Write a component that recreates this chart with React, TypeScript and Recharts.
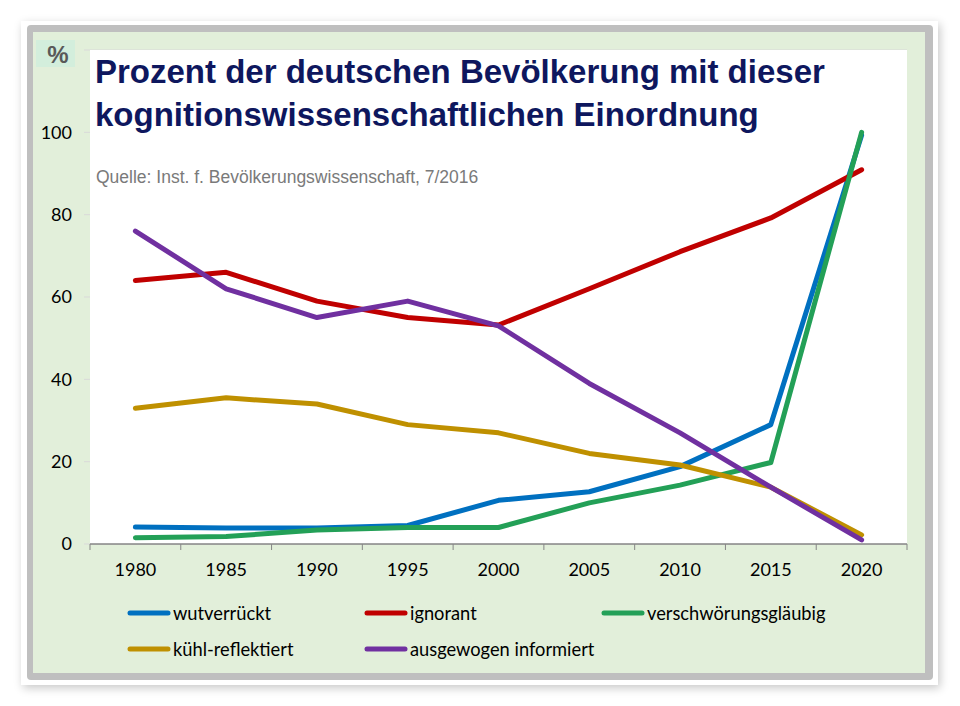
import React from 'react';
import { LineChart, Line, XAxis, YAxis, CartesianGrid, Legend } from 'recharts';

// Jahre (Kategorien)
const years = ['1980', '1985', '1990', '1995', '2000', '2005', '2010', '2015', '2020'];

// Werte je Gruppe in %
const wutverrueckt = [4.1, 3.9, 3.9, 4.5, 10.6, 12.7, 18.8, 29, 99.3];
const ignorant = [64, 66, 59, 55, 53.2, 62, 71, 79.2, 90.9];
const verschwoerungsglaeubig = [1.5, 1.8, 3.4, 4, 4, 10, 14.3, 19.8, 100];
const kuehlReflektiert = [33, 35.5, 34, 29, 27, 22, 19.2, 13.8, 2.2];
const ausgewogenInformiert = [76, 62, 55, 59, 53, 39, 27, 13.8, 1];

const yTicks = [0, 20, 40, 60, 80, 100, 120];

const series = [
  { key: 'wut', name: 'wutverrückt', color: '#0070c0', values: wutverrueckt },
  { key: 'ign', name: 'ignorant', color: '#c00000', values: ignorant },
  { key: 'ver', name: 'verschwörungsgläubig', color: '#23a057', values: verschwoerungsglaeubig },
  { key: 'kue', name: 'kühl-reflektiert', color: '#bf9000', values: kuehlReflektiert },
  { key: 'aus', name: 'ausgewogen informiert', color: '#7030a0', values: ausgewogenInformiert },
];

const data = years.map((year, i) => {
  const row: Record<string, string | number> = { year };
  series.forEach((s) => {
    row[s.key] = s.values[i];
  });
  return row;
});

const CHART_W = 892;
const CHART_H = 641;
const PLOT_W = 817;
const BAND = PLOT_W / years.length;
const TICK_FONT = 'Lato, "Open Sans", sans-serif';

const YTick = (props: any) => {
  const { x, y, payload } = props;
  if (payload.value === 120) {
    // "120" wird im Original durch ein %-Kästchen verdeckt
    return (
      <g>
        <rect x={x - 36} y={y - 10} width={39} height={27} fill="#d3eedc" />
        <text
          x={x - 14}
          y={y + 13}
          textAnchor="middle"
          fontFamily='"Liberation Sans", Arial, sans-serif'
          fontWeight="bold"
          fontSize={24}
          fill="#595959"
        >
          %
        </text>
      </g>
    );
  }
  return (
    <text x={x} y={y} dy="0.355em" textAnchor="end" fontFamily={TICK_FONT} fontSize={18} fill="#000">
      {payload.value}
    </text>
  );
};

const XTick = (props: any) => {
  const { x, y, payload, index } = props;
  const axisY = y - 19;
  const half = BAND / 2;
  return (
    <g>
      <line x1={x - half} x2={x - half} y1={axisY} y2={axisY + 6} stroke="#868686" strokeWidth={1} />
      {index === years.length - 1 && (
        <line x1={x + half} x2={x + half} y1={axisY} y2={axisY + 6} stroke="#868686" strokeWidth={1} />
      )}
      <text x={x} y={y} dy="0.71em" textAnchor="middle" fontFamily={TICK_FONT} fontSize={18} fill="#000">
        {payload.value}
      </text>
    </g>
  );
};

const LegendBox = () => (
  <div style={{ display: 'grid', gridTemplateColumns: '237px 237px 240px' }}>
    {series.map((s) => (
      <div key={s.key} style={{ display: 'flex', alignItems: 'center', height: 36 }}>
        <svg width={45} height={10} style={{ marginRight: 1 }}>
          <line x1={3} x2={41} y1={5} y2={5} stroke={s.color} strokeWidth={5} strokeLinecap="round" />
        </svg>
        <span style={{ fontFamily: TICK_FONT, fontSize: 18.3, color: '#000', whiteSpace: 'nowrap' }}>{s.name}</span>
      </div>
    ))}
  </div>
);

export default function App() {
  return (
    <div style={{ position: 'absolute', left: 0, top: 0, width: 960, height: 706, background: '#fff' }}>
      {/* weiße Karte mit Schatten */}
      <div
        style={{
          position: 'absolute',
          left: 21,
          top: 21,
          width: 917,
          height: 664,
          background: '#fff',
          boxShadow: '2px 3px 9px rgba(0,0,0,0.22)',
        }}
      />
      {/* grauer Rahmen */}
      <div
        style={{
          position: 'absolute',
          left: 27,
          top: 25,
          width: 906,
          height: 655,
          background: '#bfbfbf',
          borderRadius: 4,
        }}
      />
      {/* grüne Fläche mit Diagramm */}
      <div style={{ position: 'absolute', left: 33, top: 32, width: CHART_W, height: CHART_H, background: '#e2efda' }}>
        <LineChart
          width={CHART_W}
          height={CHART_H}
          data={data}
          margin={{ top: 18, right: 18, bottom: 89, left: 7 }}
        >
          <rect x={57} y={18} width={PLOT_W} height={494} fill="#fff" />
          <CartesianGrid vertical={false} stroke="#d9d9d9" strokeWidth={1} fill="#fff" />
          <XAxis
            dataKey="year"
            height={40}
            padding={{ left: BAND / 2, right: BAND / 2 }}
            axisLine={{ stroke: '#868686', strokeWidth: 1.5 }}
            tickLine={false}
            tickSize={6}
            tickMargin={13}
            interval={0}
            tick={<XTick />}
          />
          <YAxis
            width={50}
            domain={[0, 120]}
            ticks={yTicks}
            interval={0}
            axisLine={false}
            tickLine={{ stroke: '#d9d9d9' }}
            tickSize={6}
            tickMargin={12}
            tick={<YTick />}
          />
          {series.map((s) => (
            <Line
              key={s.key}
              type="linear"
              dataKey={s.key}
              name={s.name}
              stroke={s.color}
              strokeWidth={5}
              strokeLinecap="round"
              strokeLinejoin="round"
              dot={false}
              activeDot={false}
              isAnimationActive={false}
            />
          ))}
          <Legend
            verticalAlign="middle"
            align="center"
            layout="horizontal"
            wrapperStyle={{ top: 563, left: 94, width: 714 }}
            content={() => <LegendBox />}
          />
        </LineChart>
      </div>
      {/* Titel und Quelle */}
      <div
        style={{
          position: 'absolute',
          left: 95,
          top: 50,
          fontFamily: '"Liberation Sans", Arial, sans-serif',
          fontWeight: 'bold',
          fontSize: 33,
          lineHeight: '43px',
          color: '#0e175e',
          whiteSpace: 'nowrap',
        }}
      >
        Prozent der deutschen Bevölkerung mit dieser
        <br />
        kognitionswissenschaftlichen Einordnung
      </div>
      <div
        style={{
          position: 'absolute',
          left: 96,
          top: 167,
          fontFamily: '"Liberation Sans", Arial, sans-serif',
          fontSize: 17.5,
          lineHeight: '20px',
          color: '#7a7a7a',
          whiteSpace: 'nowrap',
        }}
      >
        Quelle: Inst. f. Bevölkerungswissenschaft, 7/2016
      </div>
    </div>
  );
}
